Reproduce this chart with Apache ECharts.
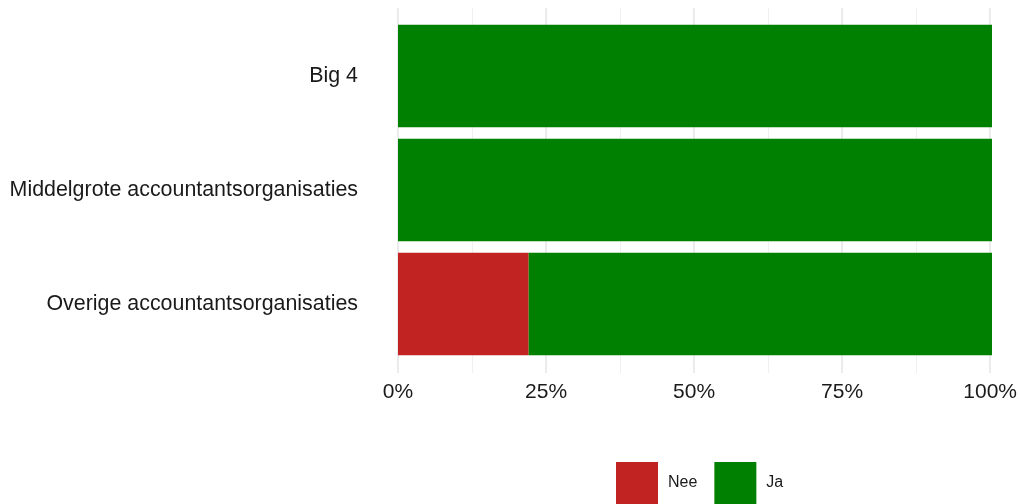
<!DOCTYPE html>
<html>
<head>
<meta charset="utf-8">
<script src="https://cdn.jsdelivr.net/npm/echarts@6/dist/echarts.min.js"></script>
<style>
html,body{margin:0;padding:0;background:#fff;}
#chart{width:1020px;height:504px;}
</style>
</head>
<body>
<div id="chart"></div>
<script>
const categories = ['Big 4', 'Middelgrote accountantsorganisaties', 'Overige accountantsorganisaties'];
const neeValues = [0, 0, 22];
const jaValues = [100, 100, 78];
const xTicks = [0, 25, 50, 75, 100];

const chart = echarts.init(document.getElementById('chart'));
const font = '"Liberation Sans", Arial, sans-serif';
chart.setOption({
  animation: false,
  backgroundColor: '#ffffff',
  legend: {
    data: ['Nee', 'Ja'],
    left: 611,
    top: 457,
    itemWidth: 42,
    itemHeight: 42,
    itemGap: 17,
    icon: 'rect',
    textStyle: { fontFamily: font, fontSize: 16, color: '#1a1a1a', padding: [0, 0, 0, 5] }
  },
  grid: [
    { left: 398, right: 28, top: 19, height: 342, containLabel: false },
    { left: 398, right: 28, top: 8, height: 365, containLabel: false }
  ],
  xAxis: [
    { gridIndex: 0, type: 'value', min: 0, max: 100, show: false },
    {
      gridIndex: 1, type: 'value', min: 0, max: 100, interval: 25,
      axisLine: { show: false }, axisTick: { show: false },
      axisLabel: {
        formatter: function (v) { return xTicks.indexOf(v) >= 0 ? v + '%' : ''; },
        fontFamily: font, fontSize: 21, color: '#1a1a1a', margin: 9
      },
      splitLine: { show: true, lineStyle: { color: '#EBEBEB', width: 2 } },
      minorTick: { show: false, splitNumber: 2 },
      minorSplitLine: { show: true, lineStyle: { color: '#F0F0F0', width: 1 } }
    }
  ],
  yAxis: [
    {
      gridIndex: 0, type: 'category', data: categories, inverse: true,
      axisLine: { show: false }, axisTick: { show: false },
      axisLabel: { fontFamily: font, fontSize: 21.4, color: '#1a1a1a', margin: 40 },
      splitLine: { show: false }
    },
    { gridIndex: 1, type: 'value', show: false }
  ],
  series: [
    {
      name: 'Nee', type: 'bar', stack: 'total', xAxisIndex: 0, yAxisIndex: 0,
      data: neeValues, barCategoryGap: '10%', itemStyle: { color: '#C12323' }
    },
    {
      name: 'Ja', type: 'bar', stack: 'total', xAxisIndex: 0, yAxisIndex: 0,
      data: jaValues, barCategoryGap: '10%', itemStyle: { color: '#008000' }
    }
  ]
});
</script>
</body>
</html>
